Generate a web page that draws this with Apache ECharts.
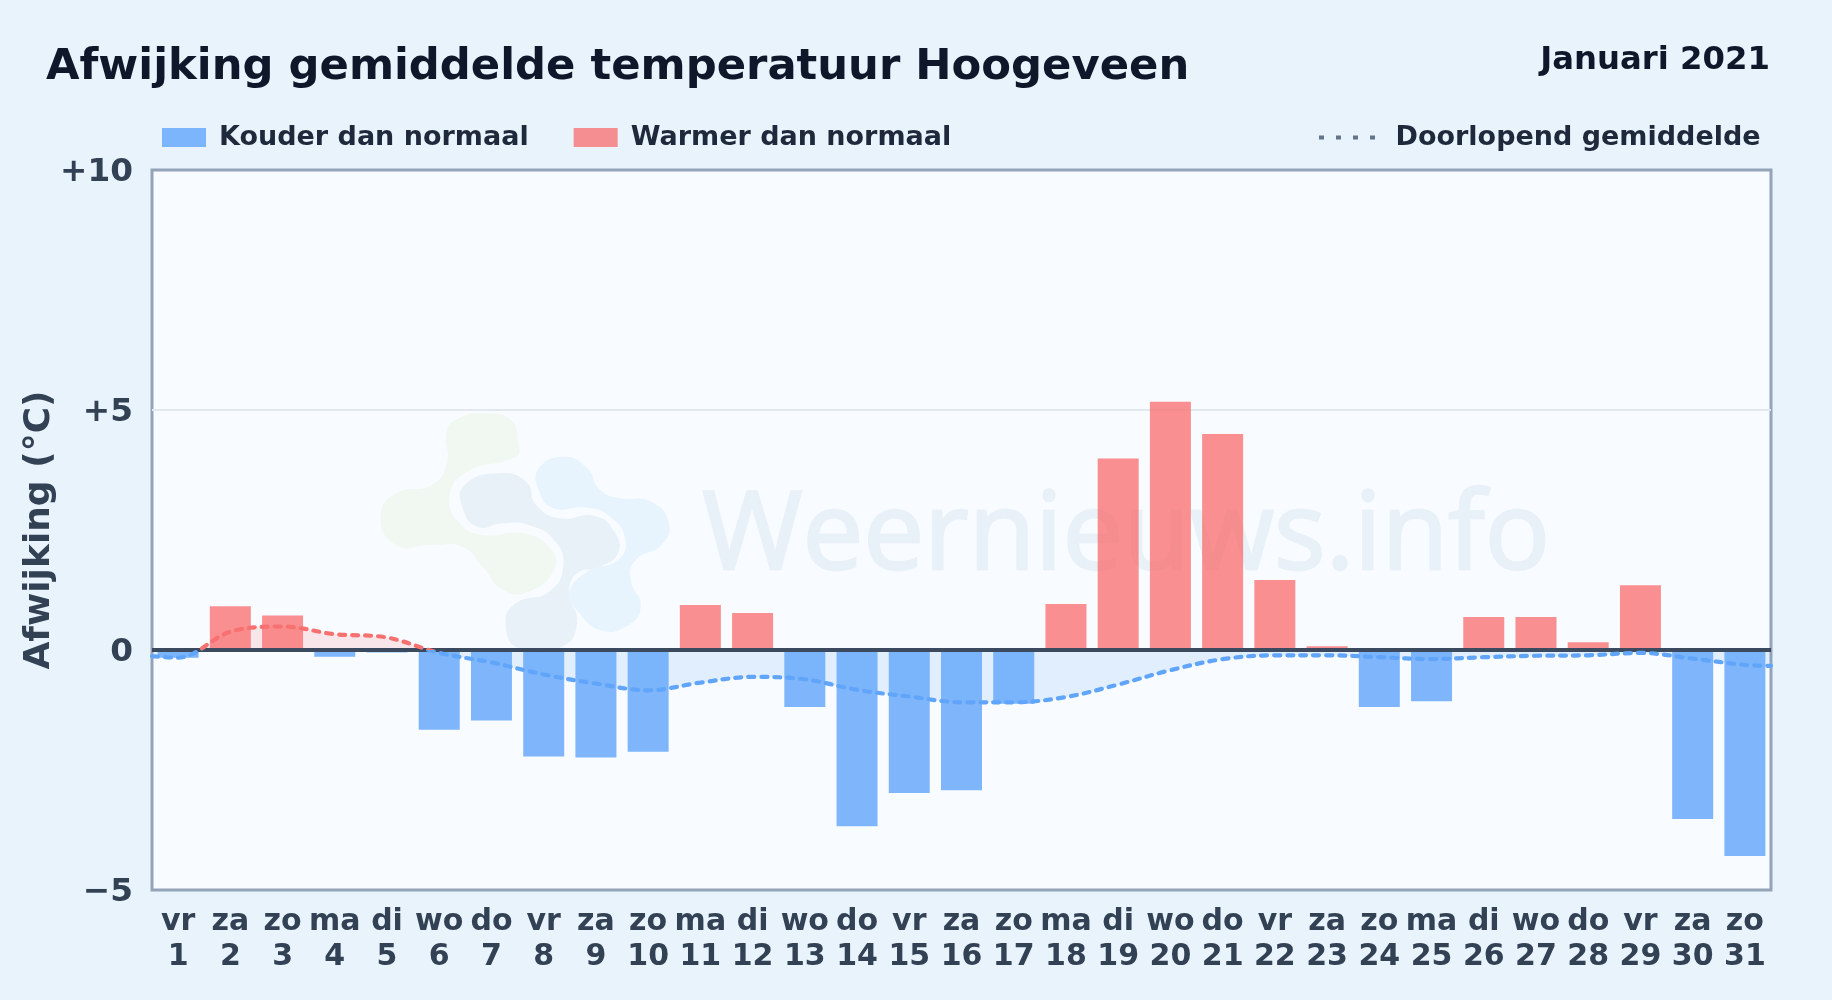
<!DOCTYPE html>
<html><head><meta charset="utf-8">
<style>html,body{margin:0;padding:0;background:#e8f3fc}#c{width:1832px;height:1000px}</style>
<script src="https://cdn.jsdelivr.net/npm/echarts@6/dist/echarts.min.js"></script>
</head><body><div id="c"></div>
<script>
const weekdays=['vr','za','zo','ma','di','wo','do','vr','za','zo','ma','di','wo','do','vr','za','zo','ma','di','wo','do','vr','za','zo','ma','di','wo','do','vr','za','zo'];
const days=['1','2','3','4','5','6','7','8','9','10','11','12','13','14','15','16','17','18','19','20','21','22','23','24','25','26','27','28','29','30','31'];
const coldValues=[-0.16,null,null,-0.14,-0.05,-1.66,-1.47,-2.22,-2.24,-2.12,null,null,-1.19,-3.67,-2.98,-2.92,-1.12,null,null,null,null,null,null,-1.19,-1.07,null,null,null,null,-3.52,-4.29];
const warmValues=[null,0.91,0.72,null,null,null,null,null,null,null,0.94,0.77,null,null,null,null,null,0.96,3.99,5.17,4.5,1.46,0.08,null,null,0.69,0.69,0.16,1.35,null,null];
const runningMean=[-0.16,0.38,0.49,0.33,0.26,-0.06,-0.26,-0.51,-0.7,-0.84,-0.68,-0.56,-0.61,-0.83,-0.97,-1.09,-1.09,-0.98,-0.72,-0.42,-0.19,-0.11,-0.11,-0.15,-0.19,-0.15,-0.12,-0.11,-0.06,-0.18,-0.31];
const runningEdges=[-0.13,-0.33];
const yTicks={'10':'+10','5':'+5','0':'0','-5':'\u22125'};

const meanPoints=[[0,runningEdges[0]]].concat(runningMean.map((v,i)=>[i+0.5,v]),[[days.length,runningEdges[1]]]);
const FONT='"DejaVu Sans"';
const ink='#334155';
const chart=echarts.init(document.getElementById('c'),null,{renderer:'canvas'});
const Z=(pts)=>pts.map(p=>[350+p[0]/1.96,390+p[1]/3]);
chart.setOption({
  animation:false,
  backgroundColor:'#e8f3fc',
  title:[
    {text:'Afwijking gemiddelde temperatuur Hoogeveen',left:46,top:46,padding:0,textStyle:{fontFamily:FONT,fontWeight:'bold',fontSize:43.3,color:'#0f172a'}},
    {text:'Januari 2021',right:62,top:45,padding:0,textStyle:{fontFamily:FONT,fontWeight:'bold',fontSize:32.3,color:'#0f172a'}}
  ],
  legend:[
    {data:['Kouder dan normaal','Warmer dan normaal'],left:162,top:124,padding:0,icon:'rect',itemWidth:44,itemHeight:19,itemGap:45,
     textStyle:{fontFamily:FONT,fontWeight:'bold',fontSize:27,color:'#1e293b',padding:[2,0,0,8]}},
    {data:['Doorlopend gemiddelde'],left:1317,top:124,padding:0,itemWidth:58,itemHeight:19,
     lineStyle:{color:'#64748b',type:[5,12],width:4,cap:'butt'},itemStyle:{opacity:0},
     textStyle:{fontFamily:FONT,fontWeight:'bold',fontSize:27,color:'#1e293b',padding:[2,0,0,13.5]}}
  ],
  grid:{left:152,right:61,top:170,height:720,show:true,backgroundColor:'#f8fbff',borderColor:'#94a3b8',borderWidth:3,containLabel:false},
  visualMap:{show:false,type:'piecewise',seriesIndex:[0,1],dimension:1,pieces:[{min:-5,max:0,color:'#60a5fa'},{min:0,max:10,color:'#f87171'}]},
  xAxis:[
    {type:'category',data:days,position:'bottom',axisLine:{show:false},axisTick:{show:false},
     axisLabel:{interval:0,margin:15,fontFamily:FONT,fontWeight:'bold',fontSize:30,lineHeight:35,color:ink,hideOverlap:false,
       formatter:(v,i)=>weekdays[i]+'\n'+v}},
    {type:'value',min:0,max:31,show:false,splitLine:{show:false}}
  ],
  yAxis:{type:'value',min:-5,max:10,interval:5,name:'Afwijking (\u00b0C)',nameLocation:'middle',nameGap:94,nameMoveOverlap:false,
    nameTextStyle:{fontFamily:FONT,fontWeight:'bold',fontSize:36,color:ink},
    axisLine:{show:false},axisTick:{show:false},
    axisLabel:{margin:19,verticalAlign:'middle',fontFamily:FONT,fontWeight:'bold',fontSize:32.7,color:ink,formatter:v=>'{t|'+yTicks[String(v)]+'}',
      rich:{t:{fontFamily:FONT,fontWeight:'bold',fontSize:32.7,color:ink,padding:[5,0,0,0]}}},
    splitLine:{show:true,showMinLine:false,showMaxLine:false,lineStyle:{color:'#e2e8f0',width:2}}},
  graphic:[
    {type:'polygon',z:1,silent:true,style:{fill:'#f1f8f1'},shape:{smooth:0.5,points:Z([[325,200],[230,245],[195,320],[215,400],[260,435],[340,430],[395,480],[400,540],[350,605],[300,600],[260,530],[220,470],[160,465],[90,465],[60,380],[90,310],[160,285],[190,220],[190,120],[220,80],[260,70],[315,90],[330,160]])}},
    {type:'polygon',z:1,silent:true,style:{fill:'#e8f0f8'},shape:{smooth:0.5,points:Z([[290,250],[345,275],[365,345],[410,385],[480,378],[520,430],[525,490],[490,530],[445,550],[430,610],[445,700],[415,770],[330,775],[305,700],[325,640],[390,605],[418,530],[400,450],[350,405],[300,400],[250,410],[220,350],[225,285]])}},
    {type:'polygon',z:1,silent:true,style:{fill:'#e7f4fd'},shape:{smooth:0.5,points:Z([[420,200],[465,235],[490,300],[530,325],[590,335],[625,400],[610,465],[560,510],[550,570],[570,650],[540,710],[490,720],[450,670],[430,610],[465,545],[525,510],[540,450],[510,380],[460,352],[400,355],[370,300],[370,235]])}},
    {type:'text',z:1,silent:true,left:701,top:482,style:{text:'Weernieuws.info',fill:'#e8f0f8',stroke:'#e8f0f8',lineWidth:2.5,font:'108.5px "Open Sans"'}}
  ],
  series:[
    {name:'gemiddelde-vlak',type:'line',xAxisIndex:1,z:2,smooth:0.35,symbol:'none',silent:true,data:meanPoints,
      lineStyle:{width:0},areaStyle:{opacity:0.15}},
    {name:'Doorlopend gemiddelde',type:'line',xAxisIndex:1,z:6,smooth:0.35,symbol:'none',silent:true,data:meanPoints,
      lineStyle:{width:4.2,type:[6,7],cap:'round'},
      markLine:{silent:true,symbol:'none',label:{show:false},lineStyle:{color:'#3b4a5e',width:4,type:'solid'},data:[{yAxis:0}]}},
    {name:'Kouder dan normaal',type:'bar',z:3,barWidth:41,barGap:'-100%',data:coldValues,itemStyle:{color:'rgba(96,165,250,0.8)'}},
    {name:'Warmer dan normaal',type:'bar',z:3,barWidth:41,barGap:'-100%',data:warmValues,itemStyle:{color:'rgba(248,113,113,0.78)'}}
  ]
});
</script></body></html>
